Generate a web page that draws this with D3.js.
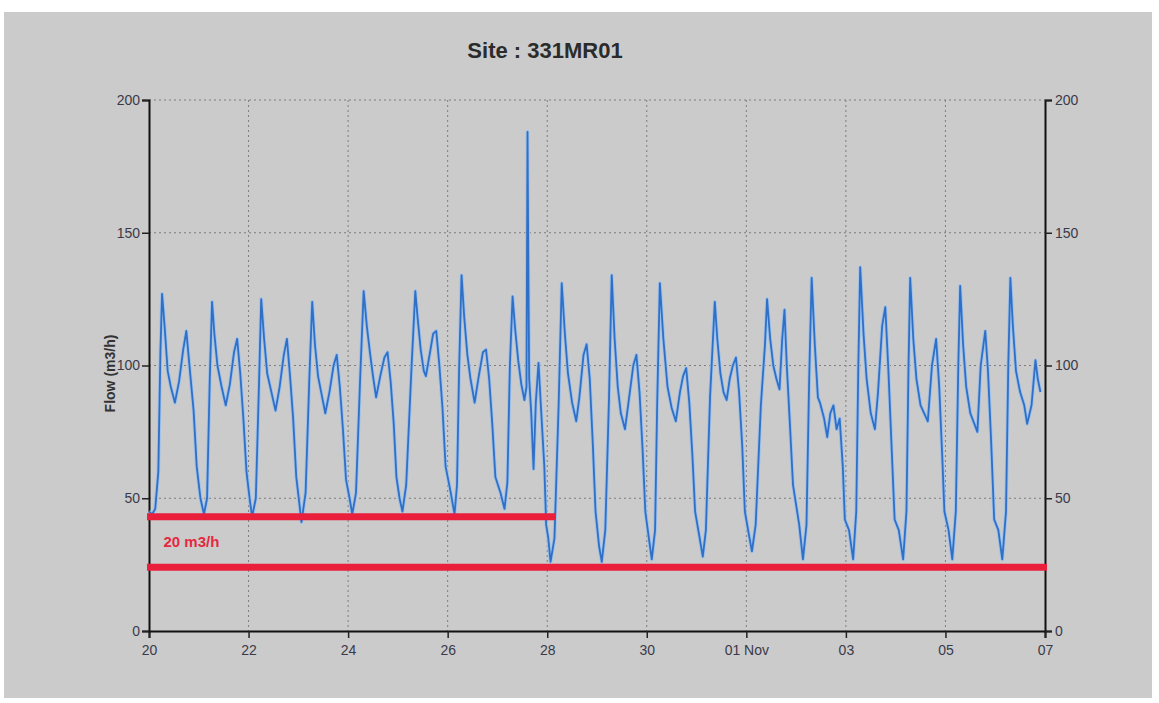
<!DOCTYPE html>
<html><head><meta charset="utf-8">
<script src="https://cdn.jsdelivr.net/npm/d3@7"></script>
<style>
html,body{margin:0;padding:0;background:#fff;}
svg{display:block;}
</style></head>
<body><div id="chart"></div>
<script>
// ---- data ----
const chartTitle = "Site :  331MR01";
const yLabel = "Flow  (m3/h)";
const yTicks = [0, 50, 100, 150, 200];
const tickDates = ["2014-10-20","2014-10-22","2014-10-24","2014-10-26","2014-10-28","2014-10-30","2014-11-01","2014-11-03","2014-11-05","2014-11-07"];
const tickLabels = ["20","22","24","26","28","30","01 Nov","03","05","07"];
const flowDates = ["2014-10-20","2014-10-21","2014-10-22","2014-10-23","2014-10-24","2014-10-25","2014-10-26","2014-10-27","2014-10-28","2014-10-29","2014-10-30","2014-10-31","2014-11-01","2014-11-02","2014-11-03","2014-11-04","2014-11-05","2014-11-06"];
// [hour of day, flow m3/h]
const flowDaily = [
  [[0,45],[1.5,44],[3,46],[4.5,60],[5.5,105],[6.3,127],[7.5,115],[9,98],[10.5,92],[12.5,86],[14.5,94],[16.5,106],[18,113],[19.5,100],[21.5,83],[23,62]],
  [[0.8,50],[2.5,44],[4,50],[5.3,95],[6.4,124],[7.5,112],[9,100],[11,92],[13,85],[15,93],[17,105],[18.5,110],[20,97],[21.5,80],[23,60]],
  [[0.5,50],[1.7,43],[3.5,50],[5,92],[6.1,125],[7.5,110],[9,97],[11,90],[13,83],[15,92],[17,104],[18.5,110],[20,96],[21.5,80],[23,58]],
  [[0.5,48],[1.5,41],[3.5,52],[5.3,95],[6.7,124],[8,108],[9.5,96],[11.5,88],[13,82],[15,90],[17,100],[18.5,104],[20,92],[21.5,76],[23,57]],
  [[0.7,50],[2,44],[3.8,52],[5.8,95],[7.5,128],[9,115],[10.5,105],[12,96],[13.5,88],[15.5,96],[17.5,103],[19,105],[20.5,94],[22,78],[23.3,58]],
  [[0.8,50],[2.2,45],[4,55],[6.5,98],[8.4,128],[9.5,118],[11,106],[12.5,98],[13.5,96],[15.5,105],[17,112],[18.5,113],[20,100],[21.5,84],[23,62]],
  [[1.5,52],[3.3,44],[4.5,55],[5.5,98],[6.7,134],[8,118],[9.5,104],[11,95],[13,86],[15,96],[17,105],[18.5,106],[20,95],[21.5,78],[23,58]],
  [[1.5,52],[3.4,46],[4.8,56],[6,100],[7.3,126],[8.5,114],[10,102],[11.5,93],[13,87],[14,92],[14.5,188],[14.9,137],[15.3,95],[16.3,82],[17.4,61],[18.5,86],[19.8,101],[21,84],[22.6,62],[23.5,40]],
  [[0.5,35],[1.6,26],[3.5,35],[5.5,85],[7,131],[8.5,112],[10,97],[12,86],[14,79],[15.5,88],[17.5,104],[19,108],[20.5,95],[22,70],[23.3,45]],
  [[1,32],[2.3,26],[4,38],[5.8,88],[7.1,134],[8.5,110],[10,92],[11.5,82],[13.5,76],[15.5,88],[17.5,100],[19,104],[20.5,90],[22,68],[23.3,45]],
  [[1,35],[2.4,27],[4,38],[5,85],[6.3,131],[8,110],[10,92],[12,84],[14,79],[16,90],[17.5,96],[19,99],[20.5,86],[22,66],[23.3,45]],
  [[1.5,35],[3,28],[4.5,38],[6.5,88],[8.8,124],[10,110],[11.5,97],[13,90],[14.5,87],[16,95],[17.5,100],[19,103],[20.5,90],[22,70],[23.3,45]],
  [[1.3,36],[2.7,30],[4.5,40],[7,85],[9,108],[10,125],[11.5,110],[13,100],[14.5,95],[16,91],[17.3,110],[18.4,121],[19.5,100],[21,78],[22.5,55]],
  [[1.5,40],[3.3,27],[5,40],[6.3,95],[7.5,133],[9,108],[10.5,88],[11.5,86],[13.5,80],[15,73],[16.5,82],[18,85],[19.5,76],[21,80],[22.5,62],[23.5,42]],
  [[1.5,38],[3.5,27],[5,45],[6,100],[6.9,137],[8.5,112],[10,95],[12,82],[14,76],[15.5,90],[17.5,115],[19,122],[20.5,98],[22,70],[23.5,42]],
  [[1.5,38],[3.6,27],[5.2,45],[6.2,100],[7,133],[8.5,110],[10,95],[12,85],[15.5,79],[17.5,100],[19.5,110],[21,92],[22.5,65],[23.5,45]],
  [[1.5,38],[3.3,27],[5,45],[6.2,100],[7.1,130],[8.5,108],[10,92],[12,82],[15.4,75],[17,100],[19.2,113],[20.5,98],[22,72],[23.5,42]],
  [[1.5,38],[3.4,27],[5.2,45],[6.3,100],[7.3,133],[8.5,115],[10,98],[12,90],[14,85],[15.4,78],[17.5,85],[19.4,102],[20.5,95],[21.8,90]]
];
const thresholdValues = [43, 24];
const thresholdStarts = ["2014-10-20 00:00", "2014-10-20 00:00"];
const thresholdEnds = ["2014-10-28 03:00", "2014-11-07 00:00"];
const thresholdLabel = "20 m3/h";
const thresholdLabelValue = 33.5;

// ---- drawing ----
const W = 1159, H = 703;
const m = {left: 149, right: 1045, top: 100, bottom: 631};
const parseDay = d3.timeParse("%Y-%m-%d");
const parseDT = d3.timeParse("%Y-%m-%d %H:%M");

const points = [];
flowDates.forEach((ds, i) => {
  const base = parseDay(ds);
  flowDaily[i].forEach(([h, v]) => points.push({t: new Date(base.getTime() + h * 3600000), v}));
});

const x = d3.scaleTime().domain([parseDay(tickDates[0]), parseDay(tickDates[tickDates.length - 1])]).range([m.left, m.right]);
const y = d3.scaleLinear().domain([0, 200]).range([m.bottom, m.top]);

const svg = d3.select("#chart").append("svg").attr("width", W).attr("height", H);
svg.append("rect").attr("width", W).attr("height", H).attr("fill", "#ffffff");
svg.append("rect").attr("x", 4).attr("y", 12).attr("width", 1148).attr("height", 686).attr("fill", "#cbcbcb");

// grid
const grid = svg.append("g");
grid.selectAll("line.v").data(tickDates.slice(1, -1)).join("line")
  .attr("x1", d => x(parseDay(d))).attr("x2", d => x(parseDay(d)))
  .attr("y1", m.top).attr("y2", m.bottom)
  .attr("stroke", "#7d7d7d").attr("stroke-width", 1).attr("stroke-dasharray", "2,3");
grid.selectAll("line.h").data(yTicks.slice(1)).join("line")
  .attr("x1", m.left).attr("x2", m.right)
  .attr("y1", d => y(d)).attr("y2", d => y(d))
  .attr("stroke", "#7d7d7d").attr("stroke-width", 1).attr("stroke-dasharray", "2,3");

// axes
const tickMap = new Map(tickDates.map((d, i) => [+parseDay(d), tickLabels[i]]));
const xAxis = d3.axisBottom(x).tickValues(tickDates.map(parseDay)).tickFormat(d => tickMap.get(+d)).tickSize(7).tickPadding(4);
const gx = svg.append("g").attr("transform", `translate(0,${m.bottom})`).call(xAxis);
const yAxisL = d3.axisLeft(y).tickValues(yTicks).tickSize(7).tickPadding(2);
const gyl = svg.append("g").attr("transform", `translate(${m.left},0)`).call(yAxisL);
const yAxisR = d3.axisRight(y).tickValues(yTicks).tickSize(7).tickPadding(3);
const gyr = svg.append("g").attr("transform", `translate(${m.right},0)`).call(yAxisR);
[gx, gyl, gyr].forEach(g => {
  g.select(".domain").attr("stroke", "#111").attr("stroke-width", 2);
  g.selectAll(".tick line").attr("stroke", "#222").attr("stroke-width", 1.5);
  g.selectAll("text").attr("font-family", "Liberation Sans, Arial, sans-serif").attr("font-size", 14).attr("fill", "#3a3a4a");
});
gx.selectAll("text").attr("dy", "0.9em");

// flow line
const line = d3.line().x(d => x(d.t)).y(d => y(d.v));
svg.append("path").datum(points).attr("d", line).attr("fill", "none")
  .attr("stroke", "#9cc0ea").attr("stroke-width", 3.6).attr("stroke-linejoin", "round");
svg.append("path").datum(points).attr("d", line).attr("fill", "none")
  .attr("stroke", "#2f6fc6").attr("stroke-width", 1.8).attr("stroke-linejoin", "round");

// threshold lines
svg.selectAll("line.thr").data(thresholdValues).join("line")
  .attr("x1", (d, i) => x(parseDT(thresholdStarts[i])) - 2)
  .attr("x2", (d, i) => x(parseDT(thresholdEnds[i])) + 2)
  .attr("y1", d => y(d)).attr("y2", d => y(d))
  .attr("stroke", "#e91f3b").attr("stroke-width", 7);
svg.append("text").attr("x", x(parseDT("2014-10-20 07:00"))).attr("y", y(thresholdLabelValue))
  .attr("dy", "0.35em").attr("font-family", "Liberation Sans, Arial, sans-serif")
  .attr("font-weight", "bold").attr("font-size", 15).attr("fill", "#e5283f").text(thresholdLabel);

// title & y label
svg.append("text").attr("x", 545).attr("y", 58).attr("text-anchor", "middle")
  .attr("font-family", "Liberation Sans, Arial, sans-serif").attr("font-weight", "bold")
  .attr("font-size", 22).attr("fill", "#2b2b2b").text(chartTitle);
svg.append("text").attr("transform", `translate(115,${(m.top + m.bottom) / 2 + 8}) rotate(-90)`)
  .attr("text-anchor", "middle").attr("font-family", "Liberation Sans, Arial, sans-serif")
  .attr("font-weight", "bold").attr("font-size", 14).attr("fill", "#333").text(yLabel);
</script>
</body></html>
